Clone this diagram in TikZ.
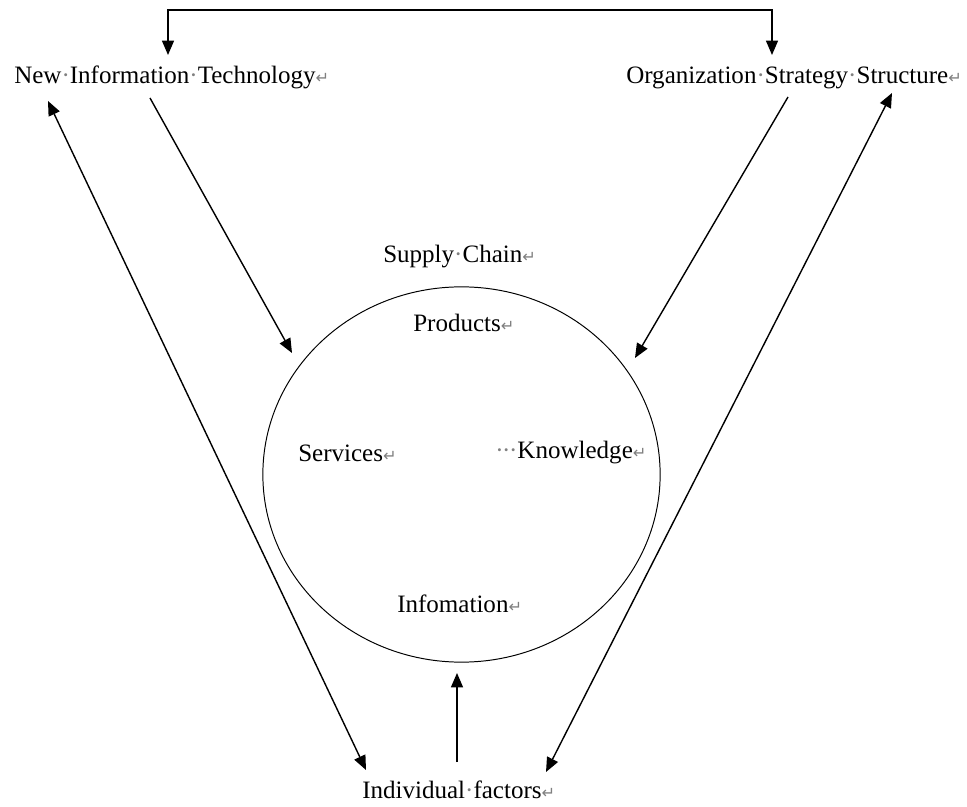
\documentclass[tikz,border=0pt]{standalone}
\usepackage{fontspec}
\setmainfont{Liberation Serif}
\newfontfamily\markfont{DejaVu Sans}
\usetikzlibrary{arrows.meta,shapes.geometric}
\newcommand{\spmark}{{\color{gray}\char"00B7}}
\newcommand{\retmark}{{\markfont\color{gray}\fontsize{11.5}{11.5}\selectfont\char"21B5}}
\tikzset{
  lbl/.style={anchor=west, inner sep=0pt, font=\fontsize{17.8}{21}\selectfont},
  arr/.style={line width=1pt, -{Triangle[length=3.6mm,width=3mm]}},
  dblarr/.style={line width=1pt, {Triangle[length=3.6mm,width=3mm]}-{Triangle[length=3.6mm,width=3mm]}}
}
\begin{document}
\begin{tikzpicture}[x=0.025cm, y=-0.025cm]
        \useasboundingbox (0,0) rectangle (967,807);
        % Draw the supply chain circle
        \node[draw, ellipse, line width=0.7pt, minimum width=9.93cm, minimum height=9.38cm, inner sep=0pt] (sc) at (461.5,474.5) {};

        % Labels for the factors
        \node[lbl] (nit) at (14,77) {New\spmark Information\spmark Technology\retmark};
        \node[lbl] (oss) at (626,78) {Organization\spmark Strategy\spmark Structure\retmark};
        \node[lbl] (ind) at (362,790) {Individual\spmark factors\retmark};

        % Labels inside and above the circle
        \node[lbl] (chain) at (383,257) {Supply\spmark Chain\retmark};
        \node[lbl] (prod) at (413,323) {Products\retmark};
        \node[lbl] (serv) at (298,453) {Services\retmark};
        \node[lbl] (know) at (495,453) {{\color{gray}\char"00B7\kern-1pt\char"00B7\kern-1pt\char"00B7}Knowledge\retmark};
        \node[lbl] (info) at (397,604) {Infomation\retmark};

        % End points of the arrows
        \coordinate (nitA) at (168,55);
        \coordinate (ossA) at (772,55);
        \coordinate (topbar) at (470,10);
        \coordinate (nitB) at (150,98);
        \coordinate (scNW) at (292,353);
        \coordinate (ossB) at (788,97);
        \coordinate (scNE) at (635,358);
        \coordinate (nitC) at (48,101);
        \coordinate (indW) at (366,770);
        \coordinate (ossC) at (892,93);
        \coordinate (indE) at (546,772);
        \coordinate (indN) at (457,762);
        \coordinate (scS) at (457,673);

        % Draw the arrows
        \draw[dblarr] (nitA) |- (topbar) -| (ossA);
        \draw[arr] (nitB) -- (scNW);
        \draw[arr] (ossB) -- (scNE);
        \draw[dblarr] (nitC) -- (indW);
        \draw[dblarr] (ossC) -- (indE);
        \draw[arr] (indN) -- (scS);
    \end{tikzpicture}
\end{document}
